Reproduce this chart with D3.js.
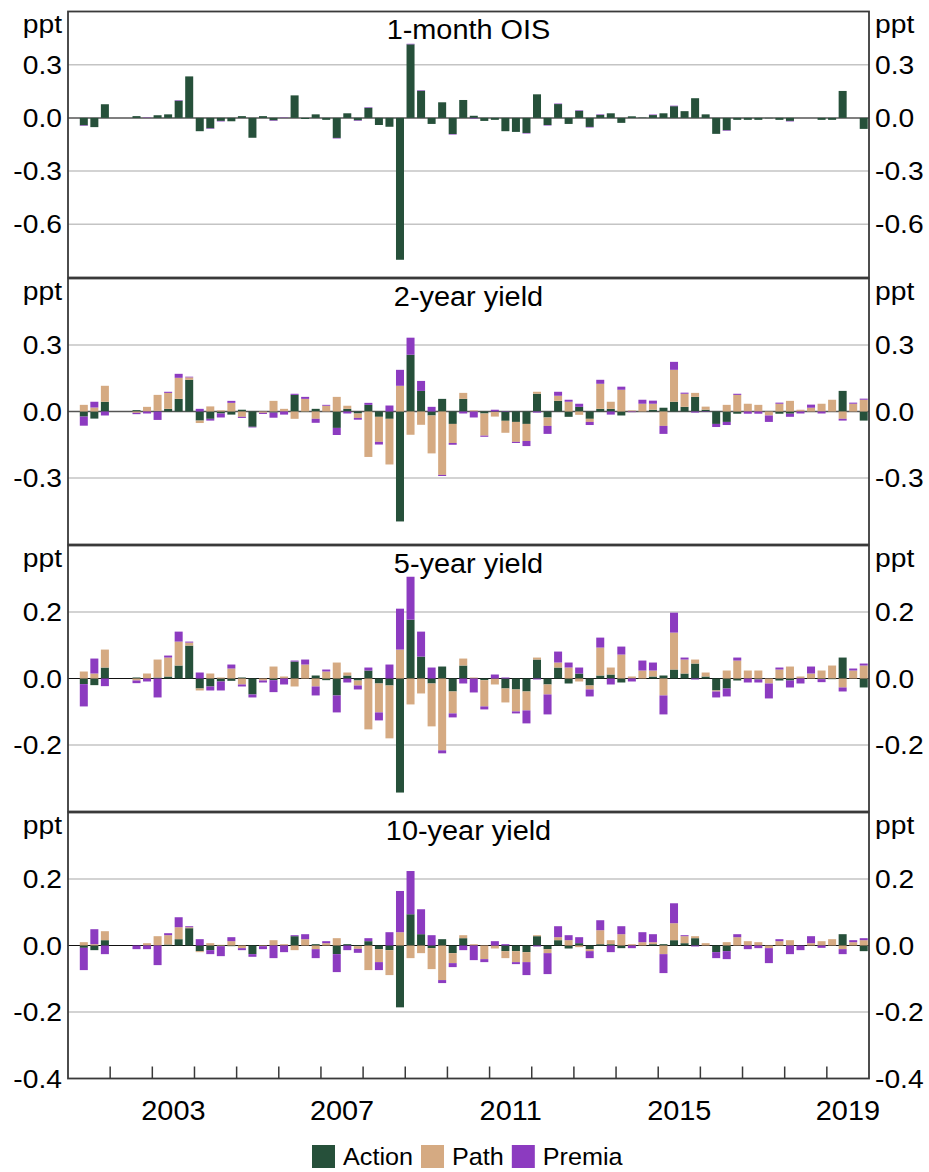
<!DOCTYPE html>
<html lang="en">
<head>
<meta charset="utf-8">
<title>Policy announcement decomposition</title>
<script src="https://d3js.org/d3.v7.min.js"></script>
<style>
  body { margin: 0; background: #fff; }
  text { font-family: "Liberation Sans", Arial, sans-serif; fill: #000; }
</style>
</head>
<body>
<script>
// quarters 2001Q1 .. 2019Q4
var years = d3.range(2001, 2020);
var quarters = [];
years.forEach(function (y) { [1, 2, 3, 4].forEach(function (q) { quarters.push(y + "Q" + q); }); });

var seriesKeys = ["action", "path", "premia"];
var seriesNames = ["Action", "Path", "Premia"];
var seriesColors = ["#26503a", "#d5aa82", "#8c3bc0"];

var yearLabels = [2003, 2007, 2011, 2015, 2019];

// 1-month OIS
var oisAction = [0, -0.042, -0.052, 0.077, 0, 0, 0.01, 0, 0.015, 0.02, 0.097, 0.234, -0.075, -0.059, -0.017, -0.019, 0.01, -0.112, 0.01, -0.014,
  0, 0.127, -0.006, 0.02, -0.011, -0.113, 0.026, -0.014, 0.057, -0.04, -0.05, -0.80, 0.415, 0.153, -0.034, 0.088, -0.091, 0.101, 0.012, -0.017,
  -0.011, -0.075, -0.079, -0.085, 0.133, -0.04, 0.078, -0.034, 0.04, -0.051, 0.017, 0.026, -0.028, 0.009, 0.002, 0.016, 0.026, 0.066, 0.038, 0.111,
  0.02, -0.09, -0.07, -0.011, -0.011, -0.011, -0.002, -0.011, -0.017, 0, 0, -0.011, -0.011, 0.152, 0, -0.062];
var oisPath = quarters.map(function () { return 0; });
var oisPremia = [0, -0.003, 0, 0, 0, 0, 0, 0.002, 0, 0, 0.003, 0, 0, -0.003, -0.003, 0, 0, 0, 0, -0.003,
  0.002, 0, 0, 0, 0, -0.003, 0, -0.003, 0.003, 0, 0, 0, 0.003, 0.003, 0, 0, -0.003, 0, -0.003, 0,
  0, 0, 0, -0.003, 0, -0.003, 0.003, 0, 0.003, -0.003, 0.003, 0, 0, 0, 0, 0.003, 0, 0.003, 0, 0,
  0, 0, -0.003, 0, 0, 0, 0, 0, -0.003, 0, 0, 0, 0, 0, 0, 0];

// 2-year yield
var y2Action = [0, -0.023, -0.032, 0.044, 0, 0, 0.006, 0, 0.003, 0.012, 0.057, 0.143, -0.041, -0.033, -0.009, -0.014, 0.008, -0.069, 0, -0.005,
  0, 0.075, -0.002, 0.012, 0, -0.074, 0.012, -0.009, 0.03, -0.024, -0.033, -0.496, 0.256, 0.093, -0.018, 0.057, -0.056, 0.057, 0, -0.009,
  -0.002, -0.042, -0.047, -0.056, 0.08, -0.027, 0.048, -0.024, 0.021, -0.033, 0.012, 0.012, -0.018, 0, 0, 0.008, 0.017, 0.044, 0.021, 0.066,
  0.008, -0.056, -0.047, -0.01, 0, 0, 0, -0.01, -0.01, 0, 0, 0, 0, 0.093, 0, -0.041];
var y2Path = [0, 0.03, 0.018, 0.072, 0, 0, -0.006, 0.021, 0.072, 0.072, 0.095, 0.011, -0.011, 0.023, 0.005, 0.039, -0.024, 0, -0.006, 0.048,
  0.012, -0.033, 0.057, -0.033, 0.026, 0.066, 0.014, -0.02, -0.205, -0.113, -0.206, 0.116, -0.105, -0.06, -0.171, -0.286, -0.086, 0.027, 0.005, -0.1,
  -0.021, -0.054, -0.09, -0.077, 0.009, -0.038, 0.023, 0.044, -0.015, -0.014, 0.113, 0.032, 0.098, 0.005, 0.035, 0.027, -0.065, 0.144, 0.059, 0.018,
  0.014, 0, 0.03, 0.075, 0.035, 0.03, -0.018, 0.035, 0.048, 0.008, 0.017, 0.035, 0.053, -0.033, 0.035, 0.053];
var y2Premia = [0, -0.041, 0.026, -0.018, 0, 0, -0.006, -0.009, -0.038, 0.005, 0.018, 0.003, 0.012, -0.008, -0.018, 0.009, -0.005, -0.003, -0.005, -0.023,
  -0.014, 0.005, 0.009, -0.018, 0.004, -0.032, -0.009, -0.008, 0.009, -0.012, 0.027, 0.072, 0.077, 0.045, 0.021, -0.005, -0.008, -0.009, -0.027, -0.005,
  0.008, 0.002, -0.005, -0.023, -0.005, -0.036, 0.018, 0.009, 0.014, -0.014, 0.018, -0.014, 0.014, -0.003, 0.018, 0.014, -0.036, 0.036, 0.005, -0.005,
  -0.002, -0.014, -0.014, 0.005, -0.01, -0.01, -0.029, 0.005, -0.014, -0.009, 0.014, -0.009, 0, -0.008, 0.005, 0.005];

// 5-year yield
var y5Action = [0, -0.017, -0.02, 0.033, 0, 0, 0.003, 0, 0.003, 0.006, 0.039, 0.099, -0.03, -0.024, -0.009, -0.007, 0.003, -0.048, 0, -0.005,
  0, 0.051, 0, 0.009, -0.005, -0.051, 0.009, -0.006, 0.024, -0.015, -0.021, -0.343, 0.177, 0.066, -0.015, 0.036, -0.039, 0.039, 0, -0.005,
  0, -0.03, -0.033, -0.039, 0.057, -0.018, 0.033, -0.015, 0.015, -0.021, 0.009, 0.012, -0.012, 0, 0, 0.006, 0.009, 0.027, 0.015, 0.045,
  0.006, -0.036, -0.03, -0.006, 0, -0.003, 0, -0.006, -0.006, 0, 0, -0.002, -0.002, 0.063, 0, -0.027];
var y5Path = [0, 0.021, 0.015, 0.054, 0, 0, -0.006, 0.015, 0.054, 0.057, 0.072, 0.009, -0.006, 0.015, 0.003, 0.03, -0.018, 0, -0.006, 0.036,
  0.006, -0.024, 0.042, -0.024, 0.021, 0.048, 0.009, -0.015, -0.153, -0.087, -0.159, 0.087, -0.078, -0.045, -0.129, -0.216, -0.066, 0.021, 0.003, -0.079,
  -0.018, -0.042, -0.066, -0.057, 0.006, -0.03, 0.015, 0.033, -0.009, -0.012, 0.084, 0.021, 0.072, 0.006, 0.024, 0.018, -0.051, 0.111, 0.042, 0.012,
  0.012, -0.003, 0.024, 0.054, 0.024, 0.024, -0.015, 0.027, 0.036, 0.006, 0.015, 0.024, 0.039, -0.027, 0.024, 0.039];
var y5Premia = [0, -0.067, 0.045, -0.023, 0, 0, -0.008, -0.009, -0.057, 0.006, 0.03, 0.003, 0.018, -0.012, -0.027, 0.012, -0.006, -0.009, -0.006, -0.036,
  -0.018, 0.003, 0.015, -0.027, 0.006, -0.051, -0.012, -0.012, 0.009, -0.024, 0.042, 0.123, 0.129, 0.075, 0.033, -0.009, -0.012, -0.015, -0.042, -0.009,
  0.012, 0.003, -0.006, -0.039, -0.003, -0.06, 0.033, 0.015, 0.018, -0.021, 0.03, -0.018, 0.024, -0.009, 0.03, 0.024, -0.057, 0.06, 0.006, -0.003,
  0, -0.018, -0.024, 0.009, -0.012, -0.009, -0.045, 0.006, -0.021, -0.015, 0.021, -0.009, 0, -0.012, 0.006, 0.006];

// 10-year yield
var y10Action = [0, -0.007, -0.014, 0.016, 0, 0, 0, 0, 0, 0.003, 0.019, 0.052, -0.017, -0.014, -0.002, -0.002, 0, -0.026, 0, 0,
  0, 0.028, 0, 0.004, 0, -0.026, 0.004, -0.002, 0.013, -0.011, -0.014, -0.186, 0.094, 0.034, -0.008, 0.019, -0.023, 0.022, 0, 0,
  0, -0.017, -0.017, -0.02, 0.028, -0.011, 0.016, -0.009, 0.007, -0.011, 0.004, 0.004, -0.008, 0, 0, 0.004, 0.004, 0.016, 0.007, 0.022,
  0, -0.02, -0.017, 0, 0, 0, 0, 0, 0, 0, 0, 0, 0, 0.034, 0, -0.017];
var y10Path = [0, 0.01, 0.004, 0.027, 0, 0, 0, 0.007, 0.028, 0.028, 0.036, 0.003, -0.003, 0.007, 0.002, 0.013, -0.008, 0, -0.002, 0.016,
  0.004, -0.014, 0.019, -0.011, 0.007, 0.022, 0, -0.008, -0.074, -0.039, -0.075, 0.04, -0.038, -0.023, -0.063, -0.104, -0.03, 0.009, 0.004, -0.041,
  -0.009, -0.021, -0.033, -0.03, 0.003, -0.012, 0.009, 0.016, -0.005, -0.006, 0.042, 0.012, 0.034, 0.004, 0.01, 0.006, -0.026, 0.051, 0.021, 0.006,
  0.007, 0, 0.01, 0.025, 0.013, 0.01, -0.008, 0.013, 0.016, 0, 0.007, 0.013, 0.019, -0.011, 0.01, 0.016];
var y10Premia = [0, -0.067, 0.045, -0.026, 0, 0, -0.011, -0.011, -0.059, 0.006, 0.03, 0.003, 0.019, -0.012, -0.03, 0.012, -0.006, -0.008, -0.009, -0.038,
  -0.02, 0.003, 0.015, -0.027, 0.006, -0.054, -0.014, -0.012, 0.009, -0.024, 0.04, 0.124, 0.13, 0.075, 0.031, -0.009, -0.012, -0.014, -0.044, -0.009,
  0.013, 0.004, -0.006, -0.039, -0.003, -0.063, 0.033, 0.015, 0.018, -0.021, 0.03, -0.02, 0.024, -0.008, 0.03, 0.024, -0.057, 0.06, 0.003, -0.003,
  0, -0.018, -0.024, 0.009, -0.011, -0.008, -0.045, 0.006, -0.026, -0.014, 0.021, -0.007, 0, -0.015, 0.006, 0.006];

var panels = [
  { title: "1-month OIS", domain: [-0.9, 0.6], ticks: [0.3, 0, -0.3, -0.6], action: oisAction, path: oisPath, premia: oisPremia, zero: "#555", zw: 1.5 },
  { title: "2-year yield", domain: [-0.6, 0.6], ticks: [0.3, 0, -0.3], action: y2Action, path: y2Path, premia: y2Premia, zero: "#555", zw: 1.5 },
  { title: "5-year yield", domain: [-0.4, 0.4], ticks: [0.2, 0, -0.2], action: y5Action, path: y5Path, premia: y5Premia, zero: "#111", zw: 1 },
  { title: "10-year yield", domain: [-0.4, 0.4], ticks: [0.2, 0, -0.2, -0.4], action: y10Action, path: y10Path, premia: y10Premia, zero: "#111", zw: 1 }
];

var width = 929, height = 1172;
var left = 68, right = 869, top0 = 11.5, ph = 266, gap = 1;

var svg = d3.select("body").append("svg")
  .attr("width", width)
  .attr("height", height);

var x = d3.scaleBand().domain(quarters).range([left, right]).paddingInner(0.24).paddingOuter(0.12);
var xYear = d3.scaleLinear().domain([2001, 2020]).range([left, right]);

// text with a little horizontal stretch, like the original
function label(g, px, py, txt, size, anchor, sx) {
  return g.append("text")
    .attr("transform", "translate(" + px + "," + py + ") scale(" + sx + ",1)")
    .attr("text-anchor", anchor)
    .style("font-size", size + "px")
    .text(txt);
}

var stack = d3.stack().keys(seriesKeys).offset(d3.stackOffsetDiverging);

panels.forEach(function (p, pi) {
  var t = top0 + pi * (ph + gap);
  var y = d3.scaleLinear().domain(p.domain).range([t + ph, t]);
  var g = svg.append("g");

  // gridlines
  g.selectAll(".grid").data(p.ticks.filter(function (d) { return d !== 0 && y(d) < t + ph - 1; }))
    .enter().append("line")
    .attr("x1", left).attr("x2", right)
    .attr("y1", function (d) { return y(d); }).attr("y2", function (d) { return y(d); })
    .style("stroke", "#c4c4c4").style("stroke-width", 1.5);

  g.append("line")
    .attr("x1", left).attr("x2", right)
    .attr("y1", y(0)).attr("y2", y(0))
    .style("stroke", p.zero).style("stroke-width", p.zw);

  var rows = quarters.map(function (q, i) {
    return { q: q, action: p.action[i], path: p.path[i], premia: p.premia[i] };
  });
  var layers = stack(rows);

  g.selectAll(".layer").data(layers).enter().append("g")
    .style("fill", function (d, i) { return seriesColors[i]; })
    .selectAll("rect").data(function (d) { return d; })
    .enter().append("rect")
    .attr("x", function (d) { return x(d.data.q); })
    .attr("width", x.bandwidth())
    .attr("y", function (d) { return y(Math.max(d[0], d[1])); })
    .attr("height", function (d) { return Math.abs(y(d[0]) - y(d[1])); });

  // frame
  g.append("rect")
    .attr("x", left).attr("y", t)
    .attr("width", right - left).attr("height", ph)
    .style("fill", "none").style("stroke", "#3a3a3a").style("stroke-width", 1.8);

  // tick labels both sides
  p.ticks.forEach(function (v) {
    label(g, 62, y(v) + 9, v.toFixed(1), 25, "end", 1.13);
    label(g, 875, y(v) + 9, v.toFixed(1), 25, "start", 1.13);
  });
  label(g, 62, t + 21, "ppt", 25, "end", 1.13);
  label(g, 875, t + 21, "ppt", 25, "start", 1.13);

  label(g, (left + right) / 2, t + 27, p.title, 27, "middle", 1.07);
});

// bottom axis: year ticks and labels
var bottom = top0 + 4 * ph + 3 * gap;
svg.selectAll(".ytick").data(d3.range(2002, 2020)).enter().append("line")
  .attr("x1", function (d) { return xYear(d); }).attr("x2", function (d) { return xYear(d); })
  .attr("y1", bottom).attr("y2", bottom - 12)
  .style("stroke", "#3a3a3a").style("stroke-width", 1.5);

yearLabels.forEach(function (yr) {
  label(svg, xYear(yr + 0.5), 1120, String(yr), 27, "middle", 1.07);
});

// legend
var lx = 312;
seriesNames.forEach(function (name, i) {
  svg.append("rect")
    .attr("x", lx).attr("y", 1145)
    .attr("width", 23).attr("height", 23)
    .style("fill", seriesColors[i]);
  var txt = label(svg, lx + 31, 1165, name, 24, "start", 1.05);
  lx = lx + 31 + txt.node().getComputedTextLength() * 1.05 + 8;
});
</script>
</body>
</html>
